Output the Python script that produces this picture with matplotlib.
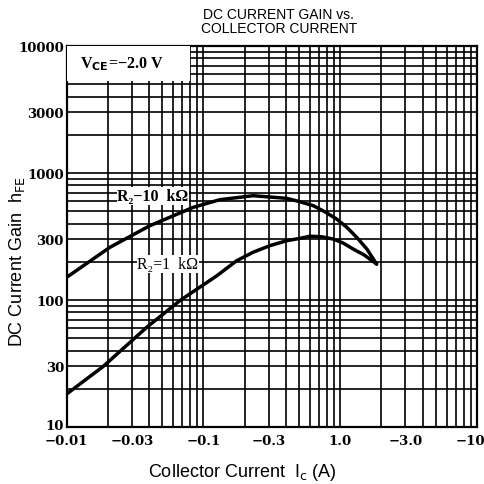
import numpy as np
import matplotlib
matplotlib.use("Agg")
import matplotlib.pyplot as plt
from matplotlib.ticker import FixedLocator, LogLocator, NullFormatter
from matplotlib.patches import Rectangle
from matplotlib.transforms import ScaledTranslation

# values (collector current in A, magnitude; gain hFE)
ic_10k = [0.01, 0.0207, 0.0406, 0.0842, 0.132, 0.231, 0.406, 0.508, 0.635, 0.773,
          0.942, 1.12, 1.318, 1.567, 1.845]
hfe_10k = [151, 260, 385, 537, 617, 663, 632, 594, 553, 495, 434, 373, 312, 252, 192]

ic_1k = [0.01, 0.0185, 0.0385, 0.0673, 0.125, 0.175, 0.231, 0.306, 0.406, 0.508,
         0.600, 0.73, 0.889, 1.05, 1.245, 1.5, 1.845]
hfe_1k = [18.2, 30, 61, 99, 155, 204, 238, 268, 293, 306, 318, 315, 302, 281, 252,
          226, 192]

x_ticks = [0.01, 0.03, 0.1, 0.3, 1.0, 3.0, 10]
x_labels = ["\u22120.01", "\u22120.03", "\u22120.1", "\u22120.3", "1.0", "\u22123.0", "\u221210"]
y_ticks = [10, 30, 100, 300, 1000, 3000, 10000]
y_labels = ["10", "30", "100", "300", "1000", "3000", "10000"]

serif = ["Liberation Serif", "DejaVu Serif"]
sans = ["Liberation Sans", "DejaVu Sans"]

fig = plt.figure(figsize=(4.85, 4.85), dpi=100)
ax = fig.add_axes([0.1375, 0.1175, 0.846, 0.7855])
ax.set_xscale("log")
ax.set_yscale("log")
ax.set_xlim(0.01, 10)
ax.set_ylim(10, 10000)

ax.xaxis.set_major_locator(FixedLocator(x_ticks))
ax.yaxis.set_major_locator(FixedLocator(y_ticks))
ax.xaxis.set_minor_locator(LogLocator(base=10, subs=np.arange(1, 10)))
ax.yaxis.set_minor_locator(LogLocator(base=10, subs=np.arange(1, 10)))
ax.xaxis.set_minor_formatter(NullFormatter())
ax.yaxis.set_minor_formatter(NullFormatter())
ax.set_xticklabels(x_labels, fontfamily="DejaVu Serif", fontweight="bold", fontsize=9.5)
ax.set_yticklabels(y_labels, fontfamily="DejaVu Serif", fontweight="bold", fontsize=9.5)
ax.tick_params(which="both", length=0)
ax.tick_params(axis="x", pad=5)
ax.tick_params(axis="y", pad=2)
last = ax.get_xticklabels()[-1]
last.set_horizontalalignment("right")
last.set_transform(last.get_transform() + ScaledTranslation(0.08, 0, fig.dpi_scale_trans))
first = ax.get_yticklabels()[0]
first.set_transform(first.get_transform() + ScaledTranslation(0, 0.03, fig.dpi_scale_trans))

ax.grid(which="minor", color="black", lw=1.2)
ax.grid(which="major", color="black", lw=1.2)
for s in ax.spines.values():
    s.set_linewidth(1.6)

ax.plot(ic_10k, hfe_10k, color="black", lw=2.5, solid_capstyle="round", zorder=4)
ax.plot(ic_1k, hfe_1k, color="black", lw=2.5, solid_capstyle="round", zorder=4)

box = dict(facecolor="white", edgecolor="none", pad=0.5)
ax.text(0.0428, 659, "R\u2082\u221210  k\u03a9", fontfamily=serif, fontweight="bold",
        fontsize=11.5, ha="center", va="center", bbox=box, zorder=5)
ax.text(0.055, 192, "R\u2082=1  k\u03a9", fontfamily=serif, fontsize=11.5,
        ha="center", va="center", bbox=box, zorder=5)

# white box behind the test condition
ax.add_patch(Rectangle((0, 0.908), 0.30, 0.092, transform=ax.transAxes,
                       facecolor="white", edgecolor="none", zorder=4))
ax.text(0.033, 0.954, "V$_{\\mathbf{CE}}$=\u22122.0 V", transform=ax.transAxes,
        fontfamily=serif, fontweight="bold", fontsize=11.5, ha="left", va="center", zorder=5)

fig.text(0.50, 0.025, "Collector Current  I$_{\\rm c}$ (A)", fontfamily=sans, fontsize=13,
         ha="center", va="center")
fig.text(0.036, 0.46, "DC Current Gain  h$_{\\rm FE}$", fontfamily=sans, fontsize=13,
         ha="center", va="center", rotation=90)
fig.text(0.575, 0.955, "DC CURRENT GAIN vs.\nCOLLECTOR CURRENT", fontfamily=sans,
         fontsize=10, ha="center", va="center", linespacing=1.05)

fig.savefig("out.png", dpi=100)
